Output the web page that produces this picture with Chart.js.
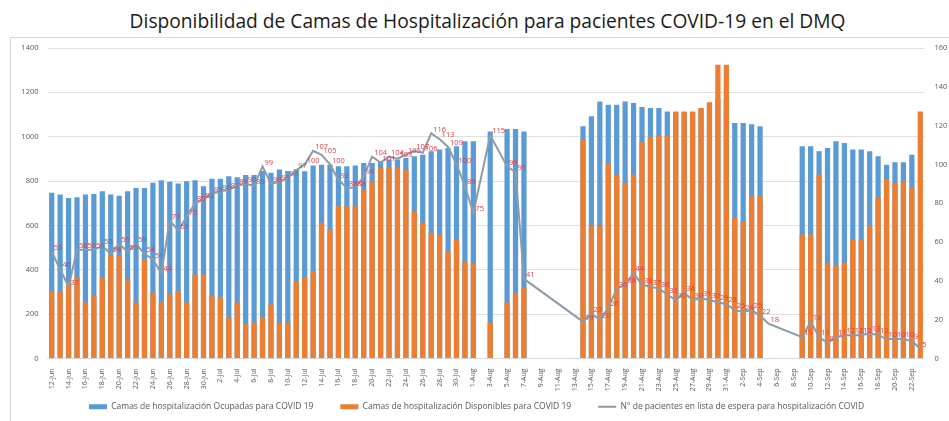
<!DOCTYPE html>
<html>
<head>
<meta charset="utf-8">
<script src="https://cdn.jsdelivr.net/npm/chart.js@4.4.1/dist/chart.umd.min.js"></script>
<style>
    html, body { margin: 0; padding: 0; background: #fff; overflow: hidden; }
    body { width: 949px; height: 421px; position: relative; }
    #title {
        position: absolute; left: 0; top: 7px; width: 975px;
        text-align: center; font-family: "Open Sans", sans-serif;
        font-size: 19.2px; color: #1a1a1a; white-space: nowrap;
    }
    #frame {
        position: absolute; left: 10px; top: 37px; width: 980px; height: 400px;
        border: 1px solid #d6d6d6;
    }
    #wrap { position: absolute; left: 0; top: 0; width: 970px; height: 421px; }
</style>
</head>
<body>
<div id="frame"></div>
<div id="title">Disponibilidad de Camas de Hospitalización para pacientes COVID-19 en el DMQ</div>
<div id="wrap"><canvas id="camasChart" width="970" height="421"></canvas></div>

<script>
// Fechas (12-Jun al 23-Sep)
const fechas = [
    '12-Jun', '13-Jun', '14-Jun', '15-Jun', '16-Jun', '17-Jun', '18-Jun', '19-Jun', '20-Jun', '21-Jun',
    '22-Jun', '23-Jun', '24-Jun', '25-Jun', '26-Jun', '27-Jun', '28-Jun', '29-Jun', '30-Jun',
    '1-Jul', '2-Jul', '3-Jul', '4-Jul', '5-Jul', '6-Jul', '7-Jul', '8-Jul', '9-Jul', '10-Jul',
    '11-Jul', '12-Jul', '13-Jul', '14-Jul', '15-Jul', '16-Jul', '17-Jul', '18-Jul', '19-Jul', '20-Jul',
    '21-Jul', '22-Jul', '23-Jul', '24-Jul', '25-Jul', '26-Jul', '27-Jul', '28-Jul', '29-Jul', '30-Jul', '31-Jul',
    '1-Aug', '2-Aug', '3-Aug', '4-Aug', '5-Aug', '6-Aug', '7-Aug', '8-Aug', '9-Aug', '10-Aug',
    '11-Aug', '12-Aug', '13-Aug', '14-Aug', '15-Aug', '16-Aug', '17-Aug', '18-Aug', '19-Aug', '20-Aug',
    '21-Aug', '22-Aug', '23-Aug', '24-Aug', '25-Aug', '26-Aug', '27-Aug', '28-Aug', '29-Aug', '30-Aug', '31-Aug',
    '1-Sep', '2-Sep', '3-Sep', '4-Sep', '5-Sep', '6-Sep', '7-Sep', '8-Sep', '9-Sep', '10-Sep',
    '11-Sep', '12-Sep', '13-Sep', '14-Sep', '15-Sep', '16-Sep', '17-Sep', '18-Sep', '19-Sep', '20-Sep',
    '21-Sep', '22-Sep', '23-Sep'
];

// Camas ocupadas (eje izquierdo)
const camasOcupadas = [
    747, 739, 724, 727, 739, 742, 754, 739, 734, 754,
    769, 769, 792, 804, 797, 789, 799, 804, 777,
    811, 811, 822, 817, 827, 827, 845, 838, 852, 845,
    853, 844, 870, 874, 874, 867, 867, 870, 882, 882,
    889, 897, 897, 904, 912, 919, 934, 942, 949, 957, 979,
    979, null, 1024, null, 1035, 1035, 1024, null, null, null,
    null, null, null, 1047, 1092, 1159, 1144, 1144, 1159, 1152,
    1134, 1130, 1130, 1114, 1110, 1110, 1110, 1125, 1150, 1170, 1170,
    1062, 1062, 1056, 1047, null, null, null, null, 957, 957,
    934, 949, 979, 972, 942, 942, 934, 912, 874, 885,
    885, 919, null
];

// Camas disponibles (eje izquierdo)
const camasDisponibles = [
    304, 304, 342, 364, 252, 282, 364, 462, 462, 357,
    252, 447, 297, 252, 289, 304, 252, 379, 379,
    282, 277, 184, 252, 154, 162, 184, 244, 162, 162,
    345, 365, 394, 612, 582, 687, 687, 687, 762, 799,
    860, 860, 860, 852, 664, 612, 567, 559, 484, 537, 439,
    432, null, 162, null, 252, 297, 320, null, null, null,
    null, null, null, 987, 597, 597, 882, 829, 792, 829,
    975, 995, 1005, 1005, 1114, 1114, 1114, 1130, 1155, 1324, 1324,
    634, 620, 732, 732, null, null, null, null, 559, 559,
    829, 432, 417, 432, 537, 537, 597, 725, 807, 792,
    800, 769, 1114
];

// Pacientes en lista de espera (eje derecho)
const esperaPacientes = [
    55, 46, 37, 56, 56, 56, 58, 54, 59, 55,
    59, 54, 51, 44, 71, 66, 73, 80, 82,
    85, 86, 87, 89, 90, 89, 99, 90, 91, 93,
    97, 100, 107, 105, 100, 92, 88, 88, 94, 104,
    101, 104, 103, 105, 107, 106, 116, 113, 109, 100, 89,
    75, null, 115, null, 99, 96, 41, null, null, null,
    null, null, null, 19, 23, 20, 26, 36, 38, 44,
    38, 37, 36, 33, 30, 34, 30, 31, 30, 29, 28,
    25, 24, 25, 22, 18, null, null, null, 11, 19,
    11, 8, 11, 12, 12, 12, 13, 12, 10, 10,
    10, 9, 5
];

const ticksIzq = [0, 200, 400, 600, 800, 1000, 1200, 1400];
const ticksDer = [0, 20, 40, 60, 80, 100, 120, 140, 160];

// Etiquetas rojas sobre la línea
const lineLabels = {
    id: 'lineLabels',
    afterDatasetsDraw(chart) {
        const meta = chart.getDatasetMeta(2);
        const ctx = chart.ctx;
        ctx.save();
        ctx.font = '7.5px "Open Sans"';
        ctx.fillStyle = '#e23b48';
        ctx.textBaseline = 'middle';
        meta.data.forEach((pt, i) => {
            const v = esperaPacientes[i];
            if (v === null || v === undefined) return;
            ctx.fillText(String(v), pt.x + 2, pt.y - 4);
        });
        ctx.restore();
    }
};

const ctx = document.getElementById('camasChart').getContext('2d');
new Chart(ctx, {
    type: 'bar',
    data: {
        labels: fechas,
        datasets: [{
            label: 'Camas de hospitalización Ocupadas para COVID 19',
            data: camasOcupadas,
            backgroundColor: '#5b9bd5',
            pointStyle: 'rect',
            grouped: false,
            barPercentage: 0.62,
            categoryPercentage: 1.0,
            yAxisID: 'y',
            order: 3
        }, {
            label: 'Camas de hospitalización Disponibles para COVID 19',
            data: camasDisponibles,
            backgroundColor: '#ed7d31',
            pointStyle: 'rect',
            grouped: false,
            barPercentage: 0.62,
            categoryPercentage: 1.0,
            yAxisID: 'y',
            order: 2
        }, {
            type: 'line',
            label: 'N° de pacientes en lista de espera para hospitalización COVID',
            data: esperaPacientes,
            borderColor: '#8d9ba7',
            backgroundColor: '#8d9ba7',
            borderWidth: 2,
            pointRadius: 0,
            pointStyle: 'line',
            tension: 0,
            spanGaps: true,
            yAxisID: 'y1',
            order: 1
        }]
    },
    options: {
        responsive: false,
        animation: false,
        layout: { padding: { top: 48, left: 0, right: 0, bottom: 0 } },
        plugins: {
            title: { display: false },
            tooltip: { enabled: false },
            legend: {
                position: 'bottom',
                labels: {
                    usePointStyle: true,
                    boxHeight: 5,
                    pointStyleWidth: 18,
                    padding: 10,
                    color: '#595959',
                    font: { family: 'Open Sans', size: 8.5 },
                    sort: function(a, b) { return a.datasetIndex - b.datasetIndex; },
                    generateLabels: function(chart) {
                        const items = Chart.defaults.plugins.legend.labels.generateLabels(chart);
                        items.forEach(function(it) { it.text = it.text + '\u2003\u2003'; });
                        return items;
                    }
                }
            }
        },
        scales: {
            x: {
                grid: { display: false },
                border: { color: '#d9d9d9' },
                ticks: {
                    autoSkip: false,
                    minRotation: 90,
                    maxRotation: 90,
                    padding: 2,
                    color: '#595959',
                    font: { family: 'Open Sans', size: 7 },
                    callback: function(value, index) {
                        return index % 2 === 0 ? fechas[index] : '';
                    }
                },
                afterFit: function(scale) { scale.height = 34; }
            },
            y: {
                position: 'left',
                min: ticksIzq[0],
                max: ticksIzq[ticksIzq.length - 1],
                afterBuildTicks: function(scale) {
                    scale.ticks = ticksIzq.map(v => ({ value: v }));
                },
                grid: { color: '#e0e0e0', drawTicks: false },
                border: { display: false },
                ticks: {
                    padding: 9,
                    color: '#595959',
                    font: { family: 'Open Sans', size: 7.5 },
                    callback: function(value) { return String(value); }
                },
                afterFit: function(scale) { scale.width = 47.5; }
            },
            y1: {
                position: 'right',
                min: ticksDer[0],
                max: ticksDer[ticksDer.length - 1],
                afterBuildTicks: function(scale) {
                    scale.ticks = ticksDer.map(v => ({ value: v }));
                },
                grid: { drawOnChartArea: false, drawTicks: false },
                border: { display: false },
                ticks: {
                    padding: 10,
                    color: '#595959',
                    font: { family: 'Open Sans', size: 7.5 },
                    callback: function(value) { return String(value); }
                },
                afterFit: function(scale) { scale.width = 45.5; }
            }
        }
    },
    plugins: [lineLabels]
});
</script>
</body>
</html>
